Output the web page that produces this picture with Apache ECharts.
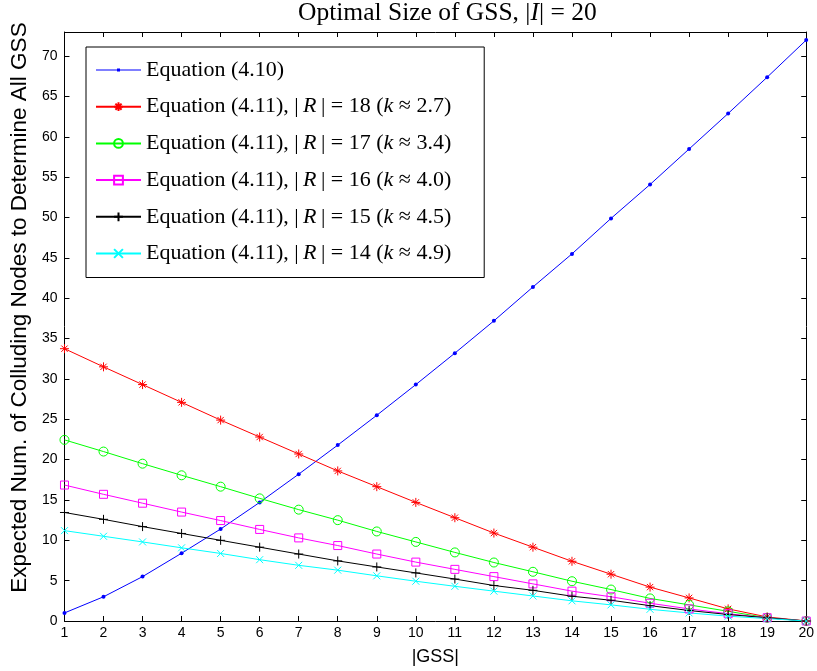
<!DOCTYPE html>
<html>
<head>
<meta charset="utf-8">
<script src="https://cdn.jsdelivr.net/npm/echarts@6/dist/echarts.min.js"></script>
<style>html,body{margin:0;padding:0;background:#fff}#c{width:817px;height:671px}</style>
</head>
<body>
<div id="c"></div>
<script>
const gssSizes = [1,2,3,4,5,6,7,8,9,10,11,12,13,14,15,16,17,18,19,20];
const eq410 = [1.0,3.0,5.5,8.4,11.4,14.7,18.2,21.8,25.5,29.3,33.2,37.2,41.4,45.5,49.9,54.1,58.5,62.9,67.4,72.0];
const eq411R18 = [33.75,31.5,29.3,27.1,24.9,22.8,20.7,18.6,16.65,14.7,12.8,10.9,9.15,7.4,5.8,4.2,2.86,1.5,0.5,0];
const eq411R17 = [22.45,21.0,19.5,18.06,16.65,15.2,13.8,12.5,11.1,9.8,8.5,7.25,6.1,4.93,3.9,2.8,2.0,1.2,0.4,0];
const eq411R16 = [16.85,15.7,14.6,13.5,12.45,11.35,10.3,9.35,8.3,7.3,6.4,5.5,4.6,3.7,3.0,2.2,1.5,0.9,0.4,0];
const eq411R15 = [13.45,12.6,11.7,10.85,10.0,9.15,8.3,7.45,6.7,5.96,5.2,4.4,3.8,3.07,2.57,1.9,1.3,0.8,0.4,0];
const eq411R14 = [11.2,10.5,9.8,9.07,8.37,7.6,6.9,6.3,5.6,4.93,4.3,3.7,3.1,2.5,2.0,1.45,1.0,0.6,0.3,0];
const seriesNames = [
  'Equation (4.10)',
  'Equation (4.11), |R| = 18 (k ≈ 2.7)',
  'Equation (4.11), |R| = 17 (k ≈ 3.4)',
  'Equation (4.11), |R| = 16 (k ≈ 4.0)',
  'Equation (4.11), |R| = 15 (k ≈ 4.5)',
  'Equation (4.11), |R| = 14 (k ≈ 4.9)'
];
const legendRich = [
  'Equation (4.10)',
  'Equation (4.11), |\u2009{i|R}\u2009| = 18 ({i|k} ≈ 2.7)',
  'Equation (4.11), |\u2009{i|R}\u2009| = 17 ({i|k} ≈ 3.4)',
  'Equation (4.11), |\u2009{i|R}\u2009| = 16 ({i|k} ≈ 4.0)',
  'Equation (4.11), |\u2009{i|R}\u2009| = 15 ({i|k} ≈ 4.5)',
  'Equation (4.11), |\u2009{i|R}\u2009| = 14 ({i|k} ≈ 4.9)'
];
const allValues = [eq410, eq411R18, eq411R17, eq411R16, eq411R15, eq411R14];
const colors = ['#0000ff','#ff0000','#00ff00','#ff00ff','#000000','#00ffff'];
const ASTER = 'path://M5,0L5,10M0,5L10,5M1.5,1.5L8.5,8.5M8.5,1.5L1.5,8.5';
const PLUS = 'path://M5,0L5,10M0,5L10,5';
const CROSS = 'path://M0,0L10,10M10,0L0,10';
const RING = 'path://M10,5A5,5,0,1,1,0,5A5,5,0,1,1,10,5Z';
const SQUARE = 'path://M0,0L10,0L10,10L0,10Z';
const symbols = ['circle', ASTER, RING, SQUARE, PLUS, CROSS];
const symbolSizes = [4, 9, 9, 8, 9, 7];
const BLUE_LEGEND_ICON = 'path://M0,1.4L45,1.4L45,2.6L0,2.6Z M21,0.5L24,0.5L24,3.5L21,3.5Z';

const SERIF = '"Liberation Serif", "DejaVu Serif", serif';
const SANS = '"Liberation Sans", Arial, sans-serif';

const series = allValues.map((vals, i) => ({
  name: seriesNames[i],
  type: 'line',
  data: vals.map((v, j) => [gssSizes[j], v]),
  symbol: symbols[i],
  symbolSize: symbolSizes[i],
  showAllSymbol: true,
  lineStyle: { color: colors[i], width: 1 },
  itemStyle: i === 0 ? { color: colors[i] } :
    { color: 'none', borderColor: colors[i], borderWidth: 1 },
  emphasis: { disabled: true },
  animation: false
}));

const axisCommon = {
  axisLine: { show: true, onZero: false, lineStyle: { color: '#000', width: 1 } },
  axisTick: { show: true, inside: true, length: 5, lineStyle: { color: '#000' } },
  splitLine: { show: false }
};

const legendData = seriesNames.map((n, i) => i === 0 ?
  { name: n, icon: BLUE_LEGEND_ICON, itemStyle: { color: colors[0], borderWidth: 0 } } : { name: n });

const chart = echarts.init(document.getElementById('c'), null, { renderer: 'canvas' });
chart.setOption({
  animation: false,
  backgroundColor: '#fff',
  title: {
    text: 'Optimal Size of GSS, |{i|I}| = 20',
    left: 298, top: 0, padding: [0, 0, 0, 0],
    textStyle: { fontFamily: SERIF, fontSize: 25.5, fontWeight: 'normal', color: '#000',
      rich: { i: { fontFamily: SERIF, fontSize: 25.5, fontStyle: 'italic', color: '#000' } } }
  },
  grid: { left: 63, right: 8, top: 32, bottom: 50, containLabel: false },
  legend: {
    orient: 'vertical',
    left: 86, top: 47,
    itemWidth: 45, itemHeight: 11, itemGap: 14.7,
    padding: [12, 33, 13, 9],
    borderColor: '#000', borderWidth: 1, backgroundColor: '#fff',
    data: legendData,
    formatter: name => legendRich[seriesNames.indexOf(name)],
    textStyle: { fontFamily: SERIF, fontSize: 22, color: '#000', lineHeight: 22,
      rich: { i: { fontFamily: SERIF, fontSize: 22, fontStyle: 'italic', color: '#000', lineHeight: 22 } } },
    selectedMode: false
  },
  xAxis: [
    Object.assign({}, axisCommon, {
      type: 'value', min: 1, max: 20, interval: 1, position: 'bottom',
      name: '|GSS|', nameLocation: 'middle', nameGap: 27,
      nameTextStyle: { fontFamily: SANS, fontSize: 18, color: '#000' },
      axisLabel: { fontFamily: SANS, fontSize: 14, color: '#000', margin: 5 }
    }),
    Object.assign({}, axisCommon, {
      type: 'value', min: 1, max: 20, interval: 1, position: 'top',
      axisLabel: { show: false }
    })
  ],
  yAxis: [
    Object.assign({}, axisCommon, {
      type: 'value', min: 0, max: 73, interval: 5, position: 'left',
      name: 'Expected Num. of Colluding Nodes to Determine All GSS',
      nameLocation: 'middle', nameGap: 25,
      nameTextStyle: { fontFamily: SANS, fontSize: 22.5, color: '#000', padding: [0, 0, 0, 38] },
      axisLabel: { fontFamily: SANS, fontSize: 14, color: '#000', margin: 7,
        formatter: v => (v % 5 === 0 ? String(v) : '') }
    }),
    Object.assign({}, axisCommon, {
      type: 'value', min: 0, max: 73, interval: 5, position: 'right',
      axisLabel: { show: false }
    })
  ],
  series: series
});
</script>
</body>
</html>
